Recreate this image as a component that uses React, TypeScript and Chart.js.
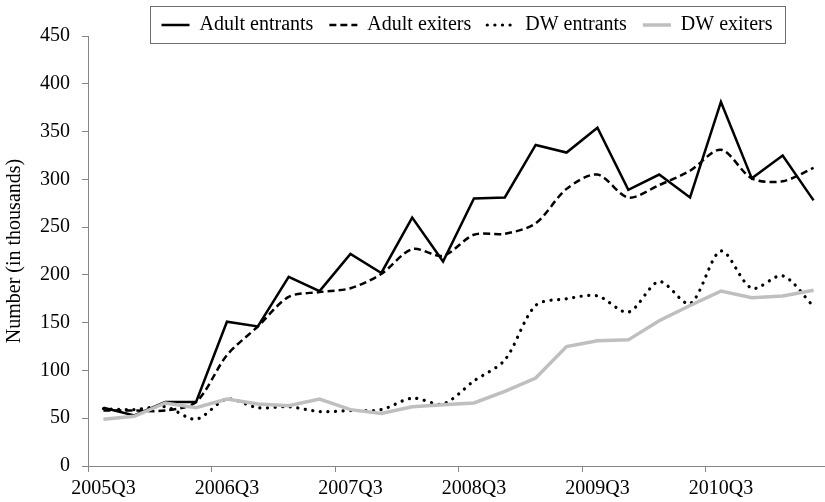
import React, { useEffect, useRef } from 'react';
import { Chart, registerables } from 'chart.js';

Chart.register(...registerables);

const quarters = [
  '2005Q3', '2005Q4', '2006Q1', '2006Q2', '2006Q3', '2006Q4', '2007Q1', '2007Q2',
  '2007Q3', '2007Q4', '2008Q1', '2008Q2', '2008Q3', '2008Q4', '2009Q1', '2009Q2',
  '2009Q3', '2009Q4', '2010Q1', '2010Q2', '2010Q3', '2010Q4', '2011Q1', '2011Q2',
];
const adultEntrants = [61, 53, 67, 67, 151, 146, 198, 183, 222, 202, 260, 214, 280, 281, 336, 328, 354, 289, 305, 281, 381, 301, 325, 278];
const adultExiters = [58, 58, 58, 67, 116, 146, 177, 182, 186, 201, 227, 220, 242, 243, 254, 290, 305, 281, 294, 309, 331, 301, 298, 312];
const dwEntrants = [60, 59, 62, 49, 70, 61, 62, 57, 58, 59, 71, 65, 89, 111, 168, 175, 178, 161, 193, 170, 225, 186, 199, 167];
const dwExiters = [49, 52, 66, 61, 70, 65, 63, 70, 59, 55, 62, 64, 66, 78, 92, 125, 131, 132, 152, 168, 183, 176, 178, 184];
const seriesLabels = ['Adult entrants', 'Adult exiters', 'DW entrants', 'DW exiters'];
const yAxisTitle = 'Number (in thousands)';

const FONT = '"Liberation Serif", "Times New Roman", serif';
const AXIS = '#868686';
const LEGEND_PAD = 16;
const LEGEND_CX = 467;
const LEGEND_CY = 25;

const legendPlace = {
  id: 'legendPlace',
  afterLayout(chart: any) {
    const lg = chart.legend;
    if (!lg) return;
    const w = lg.right - lg.left;
    lg.left = LEGEND_CX - w / 2;
    lg.right = lg.left + w;
    const h = lg.bottom - lg.top;
    lg.top = LEGEND_CY - LEGEND_PAD - 10;
    lg.bottom = lg.top + h;
  },
  afterDraw(chart: any) {
    const lg = chart.legend;
    if (!lg || !lg.lineWidths) return;
    const x0 = (lg.left + LEGEND_PAD + lg.right - lg.lineWidths[0]) / 2;
    const x1 = x0 + lg.lineWidths[0] - LEGEND_PAD;
    const ctx = chart.ctx;
    ctx.save();
    ctx.strokeStyle = '#6e6e6e';
    ctx.lineWidth = 1;
    ctx.setLineDash([]);
    ctx.strokeRect(Math.round(x0 - 12) + 0.5, 6.5, Math.round(x1 - x0 + 24), 37);
    ctx.restore();
  },
};

export default function App() {
  const ref = useRef<HTMLCanvasElement>(null);

  useEffect(() => {
    if (!ref.current) return;
    const font = { family: FONT, size: 20 };
    const chart = new Chart(ref.current, {
      type: 'line',
      data: {
        labels: quarters,
        datasets: [
          { label: seriesLabels[0], data: adultEntrants, borderColor: '#000', borderWidth: 2.5, pointRadius: 0, tension: 0, fill: false, order: 4 },
          { label: seriesLabels[1], data: adultExiters, borderColor: '#000', borderWidth: 2.5, borderDash: [7, 4], pointRadius: 0, tension: 0.3, fill: false, order: 3 },
          { label: seriesLabels[2], data: dwEntrants, borderColor: '#000', borderWidth: 3.2, borderDash: [0.1, 7.5], borderCapStyle: 'round', pointRadius: 0, tension: 0.3, fill: false, order: 2 },
          { label: seriesLabels[3], data: dwExiters, borderColor: '#BFBFBF', borderWidth: 3.5, pointRadius: 0, tension: 0, fill: false, order: 1 },
        ] as any,
      },
      options: {
        responsive: false,
        animation: false,
        devicePixelRatio: 1,
        layout: { padding: { top: 0, right: 1, bottom: 0, left: 0 } },
        plugins: {
          tooltip: { enabled: false },
          legend: {
            display: true,
            position: 'top',
            maxHeight: 36,
            labels: {
              usePointStyle: true,
              pointStyleWidth: 28,
              padding: LEGEND_PAD,
              color: '#000',
              font,
              generateLabels: (c: any) =>
                c.data.datasets.map((ds: any, i: number) => ({
                  text: ds.label,
                  fillStyle: 'rgba(0,0,0,0)',
                  strokeStyle: ds.borderColor,
                  lineWidth: ds.borderWidth,
                  lineDash: ds.borderDash || [],
                  lineCap: ds.borderCapStyle || 'butt',
                  pointStyle: 'line',
                  hidden: false,
                  datasetIndex: i,
                  fontColor: '#000',
                })),
            },
          } as any,
        },
        scales: {
          x: {
            offset: true,
            grid: {
              offset: true,
              drawOnChartArea: false,
              drawTicks: true,
              tickLength: 6,
              color: (c: any) => (c.index % 4 === 0 ? AXIS : 'rgba(0,0,0,0)'),
            },
            border: { display: true, color: AXIS },
            ticks: {
              autoSkip: false,
              maxRotation: 0,
              minRotation: 0,
              padding: 5,
              color: '#000',
              font,
              callback: (_v: any, i: number) => (i % 4 === 0 ? quarters[i] : ''),
            },
            afterFit: (s: any) => { s.height = 36; },
          },
          y: {
            min: 0,
            max: 450,
            grid: { drawOnChartArea: false, drawTicks: true, tickLength: 6, color: AXIS },
            border: { display: true, color: AXIS },
            ticks: { stepSize: 50, padding: 12, color: '#000', font },
            title: { display: true, text: yAxisTitle, color: '#000', font, padding: { top: 3, bottom: 0 } },
            afterFit: (s: any) => { s.width = 88; },
          },
        },
      } as any,
      plugins: [legendPlace],
    });
    return () => chart.destroy();
  }, []);

  return (
    <div style={{ position: 'absolute', left: 0, top: 0, width: 825, height: 502, overflow: 'hidden', background: '#fff' }}>
      <canvas ref={ref} width={830} height={502} style={{ display: 'block', width: 830, height: 502 }} />
    </div>
  );
}
